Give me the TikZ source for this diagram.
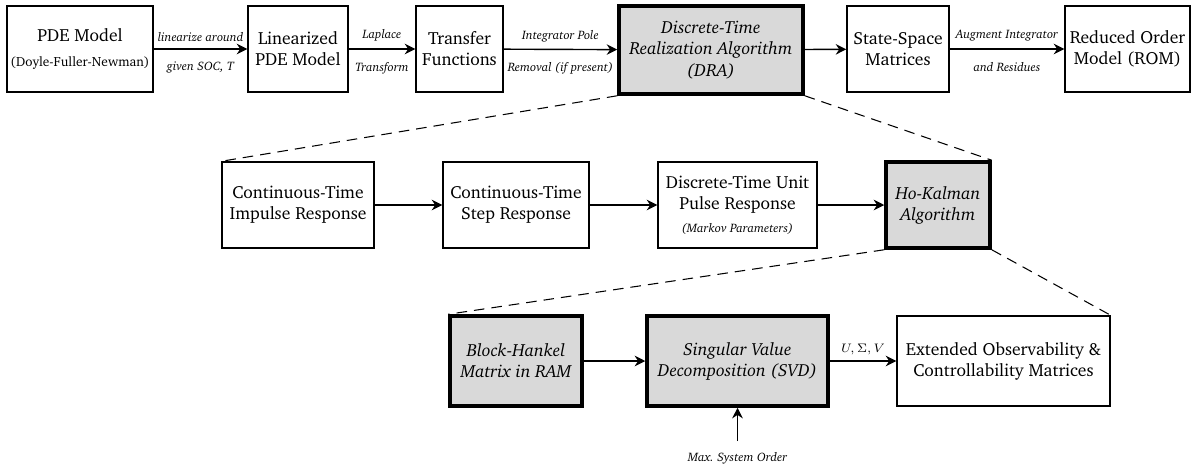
\documentclass[tikz,border=0pt]{standalone}
\usepackage[T1]{fontenc}
\usepackage{charter}
\usepackage{amsmath,amssymb}
\usetikzlibrary{arrows.meta,positioning,calc}

\begin{document}
\begin{tikzpicture}[
    block/.style={rectangle, draw, thick, minimum height=1.72cm, align=center,
                  inner sep=2pt},
    dblock/.style={block, fill=gray!30, line width=2pt, font=\itshape},
    arrow/.style={-{Stealth[length=6pt,width=6pt]}, thick},
    lbl/.style={font=\scriptsize\itshape, inner sep=3pt},
    lblup/.style={lbl, above=1pt},
    lbldown/.style={lbl, below=4pt},
    zoomline/.style={dashed, dash pattern=on 6pt off 4pt, semithick}]

\useasboundingbox (0,0) rectangle (23.84,-9.38);

% Top row: model reduction chain
\node[block, minimum width=2.92cm] (pde) at (1.6,-0.98) {PDE Model\\[2pt]{\fontsize{7.6}{9}\selectfont (Doyle-Fuller-Newman)}};
\node[block, minimum width=2.0cm] (lin) at (5.96,-0.98) {Linearized\\PDE Model};
\node[block, minimum width=1.74cm] (tf) at (9.19,-0.98) {Transfer\\Functions};
\node[dblock, minimum width=3.68cm, minimum height=1.76cm] (dra) at (14.22,-1.0) {Discrete-Time\\Realization Algorithm\\(DRA)};
\node[block, minimum width=2.04cm] (ss) at (17.96,-0.98) {State-Space\\Matrices};
\node[block, minimum width=2.5cm] (rom) at (22.55,-0.98) {Reduced Order\\Model (ROM)};

\draw[arrow] (pde) -- node[lblup] {linearize around} node[lbldown] {given SOC, T} (lin);
\draw[arrow] (lin) -- node[lblup] {Laplace} node[lbldown] {Transform} (tf);
\draw[arrow] (tf) -- node[lblup] {Integrator Pole} node[lbldown] {Removal (if present)} (dra);
\draw[arrow] (dra) -- (ss);
\draw[arrow] (ss) -- node[lblup] {Augment Integrator} node[lbldown] {and Residues} (rom);

% Middle row: inside the DRA
\node[block, minimum width=3.04cm] (ctimp) at (5.96,-4.1) {Continuous-Time\\Impulse Response};
\node[block, minimum width=2.92cm] (ctstep) at (10.32,-4.1) {Continuous-Time\\Step Response};
\node[block, minimum width=3.18cm] (dtpulse) at (14.75,-4.1) {Discrete-Time Unit\\Pulse Response\\[1pt]{\scriptsize\itshape (Markov Parameters)}};
\node[dblock, minimum width=2.08cm] (hok) at (18.76,-4.1) {Ho-Kalman\\Algorithm};

\draw[arrow] (ctimp) -- (ctstep);
\draw[arrow] (ctstep) -- (dtpulse);
\draw[arrow] (dtpulse) -- (hok);

\draw[zoomline] (dra.south west) -- (ctimp.north west);
\draw[zoomline] (dra.south east) -- (hok.north east);

% Bottom row: inside Ho-Kalman
\node[dblock, minimum width=2.64cm, minimum height=1.8cm] (hankel) at (10.32,-7.22) {Block-Hankel\\Matrix in RAM};
\node[dblock, minimum width=3.62cm, minimum height=1.8cm] (svd) at (14.75,-7.22) {Singular Value\\Decomposition (SVD)};
\node[block, minimum width=4.26cm, minimum height=1.8cm] (obsv) at (20.07,-7.22) {Extended Observability \&\\Controllability Matrices};
\node[lbl, inner sep=1pt] (maxord) at (14.75,-9.16) {Max.\ System Order};

\draw[arrow] (hankel) -- (svd);
\draw[arrow] (svd) -- node[above, font=\scriptsize] {$U,\Sigma,V$} (obsv);
\draw[arrow] ($(maxord.north)+(0,0.18)$) -- (svd);

\draw[zoomline] (hok.south west) -- (hankel.north west);
\draw[zoomline] (hok.south east) -- (obsv.north east);
\end{tikzpicture}
\end{document}
